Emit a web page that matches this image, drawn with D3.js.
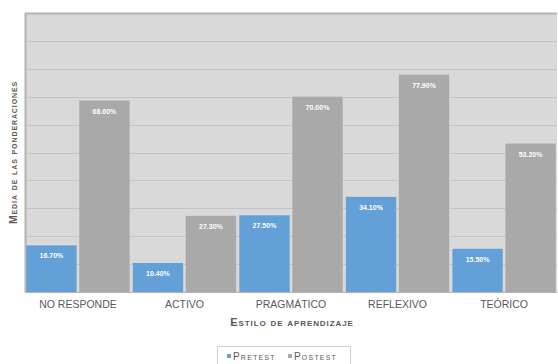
<!DOCTYPE html>
<html>
<head>
<meta charset="utf-8">
<script src="https://cdn.jsdelivr.net/npm/d3@7"></script>
<style>
  body { margin: 0; background: #fff; }
  text { font-family: "Liberation Sans", Arial, sans-serif; }
</style>
</head>
<body>
<div id="chart"></div>
<script>
const categories = ["NO RESPONDE", "ACTIVO", "PRAGMÁTICO", "REFLEXIVO", "TEÓRICO"];
const seriesNames = ["Pretest", "Postest"];
const pretest = [16.70, 10.40, 27.50, 34.10, 15.50];
const postest = [68.60, 27.30, 70.00, 77.90, 53.20];
const yTicks = [0, 10, 20, 30, 40, 50, 60, 70, 80, 90, 100];

const width = 558;
const height = 364;
const margin = ({top: 13, right: 1, bottom: 72, left: 25});
const colors = ["#64a0d8", "#a9a9a9"];

const svg = d3.select("#chart").append("svg")
	.attr("width", width)
	.attr("height", height);

const x = d3.scaleBand()
	.domain(categories)
	.range([margin.left, width - margin.right])
	.paddingInner(0.03)
	.paddingOuter(0.012);

const xs = d3.scaleBand()
	.domain(seriesNames)
	.range([0, x.bandwidth()])
	.paddingInner(0.05);

const y = d3.scaleLinear()
	.domain([0, 100])
	.range([height - margin.bottom, margin.top]);

// plot background
svg.append("rect")
	.attr("x", margin.left)
	.attr("y", margin.top)
	.attr("width", width - margin.left - margin.right)
	.attr("height", height - margin.top - margin.bottom)
	.attr("fill", "#d9d9d9");

// gridlines
svg.append("g")
	.selectAll("line")
	.data(yTicks)
	.join("line")
		.attr("x1", margin.left)
		.attr("x2", width - margin.right)
		.attr("y1", d => Math.round(y(d)) + 0.5)
		.attr("y2", d => Math.round(y(d)) + 0.5)
		.attr("stroke", "#c4c4c4")
		.attr("stroke-width", 1);

// frame: top and left edge
svg.append("path")
	.attr("d", `M${margin.left + 0.5},${height - margin.bottom}V${margin.top + 0.5}H${width - margin.right}`)
	.attr("fill", "none")
	.attr("stroke", "#b4b4b4")
	.attr("stroke-width", 2);

const rows = categories.map((c, i) => ({cat: c, values: [pretest[i], postest[i]]}));

const groups = svg.append("g")
	.selectAll("g")
	.data(rows)
	.join("g")
		.attr("transform", d => `translate(${x(d.cat)},0)`);

groups.selectAll("rect")
	.data(d => d.values.map((v, j) => ({key: seriesNames[j], v: v, j: j})))
	.join("rect")
		.attr("x", d => xs(d.key))
		.attr("y", d => y(d.v))
		.attr("width", xs.bandwidth())
		.attr("height", d => y(0) - y(d.v))
		.attr("fill", d => colors[d.j]);

groups.selectAll("text.val")
	.data(d => d.values.map((v, j) => ({key: seriesNames[j], v: v})))
	.join("text")
		.attr("class", "val")
		.attr("x", d => xs(d.key) + xs.bandwidth() / 2)
		.attr("y", d => y(d.v) + 13)
		.attr("text-anchor", "middle")
		.attr("font-size", "7px")
		.attr("font-weight", "bold")
		.attr("fill", "#ffffff")
		.text(d => d.v.toFixed(2) + "%");

// x axis line
svg.append("line")
	.attr("x1", margin.left)
	.attr("x2", width - margin.right)
	.attr("y1", y(0) + 0.5)
	.attr("y2", y(0) + 0.5)
	.attr("stroke", "#b4b4b4");

// category labels
svg.append("g")
	.selectAll("text")
	.data(categories)
	.join("text")
		.attr("x", d => x(d) + x.bandwidth() / 2)
		.attr("y", y(0) + 16)
		.attr("text-anchor", "middle")
		.attr("font-size", "10.5px")
		.attr("fill", "#595959")
		.text(d => d);

// x axis title
svg.append("text")
	.attr("x", 292)
	.attr("y", y(0) + 34)
	.attr("text-anchor", "middle")
	.attr("font-size", "11px")
	.attr("font-weight", "bold")
	.attr("fill", "#595959")
	.style("font-variant", "small-caps")
	.style("letter-spacing", "0.9px")
	.text("Estilo de aprendizaje");

// y axis title
svg.append("text")
	.attr("transform", `translate(17,${(margin.top + y(0)) / 2}) rotate(-90)`)
	.attr("text-anchor", "middle")
	.attr("font-size", "10.5px")
	.attr("font-weight", "bold")
	.attr("fill", "#595959")
	.style("font-variant", "small-caps")
	.style("letter-spacing", "0.9px")
	.text("Media de las ponderaciones");

// legend
const legend = svg.append("g").attr("transform", "translate(217,346)");
legend.append("rect")
	.attr("x", 0.5)
	.attr("y", 0.5)
	.attr("width", 133)
	.attr("height", 20)
	.attr("fill", "#fff")
	.attr("stroke", "#d0d0d0");
const items = legend.selectAll("g")
	.data(seriesNames)
	.join("g")
		.attr("transform", (d, i) => `translate(${10 + i * 61},10)`);
items.append("rect")
	.attr("x", 0)
	.attr("y", -2)
	.attr("width", 4)
	.attr("height", 4)
	.attr("fill", (d, i) => colors[i]);
items.append("text")
	.attr("x", 6)
	.attr("y", 4)
	.attr("font-size", "10px")
	.attr("fill", "#595959")
	.style("font-variant", "small-caps")
	.style("letter-spacing", "1.2px")
	.text(d => d);
</script>
</body>
</html>
